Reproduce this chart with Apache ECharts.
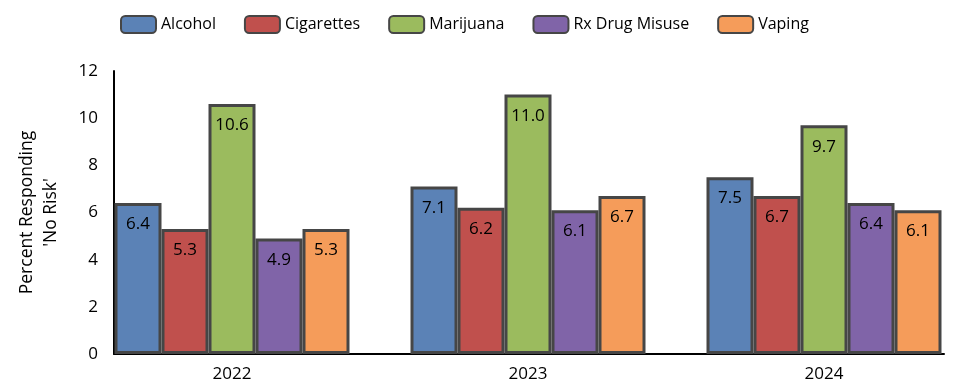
<!DOCTYPE html>
<html>
<head>
<meta charset="utf-8">
<script src="https://cdn.jsdelivr.net/npm/echarts@6/dist/echarts.min.js"></script>
<style>
  html, body { margin: 0; padding: 0; background: #fff; }
  #chart { width: 955px; height: 388px; }
</style>
</head>
<body>
<div id="chart"></div>
<script>
// survey years along the x axis
const years = ['2022', '2023', '2024'];

// percent responding 'No Risk', one array per substance
const alcohol = [6.4, 7.1, 7.5];
const cigarettes = [5.3, 6.2, 6.7];
const marijuana = [10.6, 11.0, 9.7];
const rxDrugMisuse = [4.9, 6.1, 6.4];
const vaping = [5.3, 6.7, 6.1];

const seriesNames = ['Alcohol', 'Cigarettes', 'Marijuana', 'Rx Drug Misuse', 'Vaping'];
const seriesData = [alcohol, cigarettes, marijuana, rxDrugMisuse, vaping];
const seriesColors = ['#5B82B6', '#C0504D', '#9BBB5E', '#8064A8', '#F59C5A'];

const FONT = 'Open Sans';

const chart = echarts.init(document.getElementById('chart'));

const option = {
    animation: false,
    textStyle: { fontFamily: FONT },
    legend: {
        left: 115,
        top: 10,
        itemWidth: 35,
        itemHeight: 17,
        itemGap: 28,
        textStyle: { fontSize: 16, color: '#000', fontFamily: FONT },
        data: seriesNames
    },
    grid: [
        // grid holding the bars (wider so groups line up like the original)
        { left: 84, width: 888, top: 71, bottom: 34, outerBoundsMode: 'none' },
        // grid that only draws the visible axis lines
        { left: 114, right: 11, top: 71, bottom: 34, outerBoundsMode: 'none' }
    ],
    xAxis: [
        {
            gridIndex: 0,
            type: 'category',
            data: years,
            axisLine: { show: false },
            axisTick: { show: false },
            axisLabel: { fontSize: 17, color: '#000', margin: 12, fontFamily: FONT }
        },
        {
            gridIndex: 1,
            type: 'category',
            data: years,
            axisLine: { lineStyle: { color: '#000', width: 2 } },
            axisTick: { show: false },
            axisLabel: { show: false }
        }
    ],
    yAxis: [
        {
            gridIndex: 0,
            type: 'value',
            min: 0,
            max: 12,
            interval: 2,
            show: false
        },
        {
            gridIndex: 1,
            type: 'value',
            min: 0,
            max: 12,
            interval: 2,
            name: "Percent Responding\n'No Risk'",
            nameLocation: 'middle',
            nameGap: 51,
            nameTextStyle: { fontSize: 17.5, color: '#000', lineHeight: 24, fontFamily: FONT },
            axisLine: { show: true, lineStyle: { color: '#000', width: 2 } },
            axisTick: { show: false },
            splitLine: { show: false },
            axisLabel: { fontSize: 17, color: '#000', margin: 16, fontFamily: FONT }
        }
    ],
    series: seriesNames.map((name, i) => ({
        name: name,
        type: 'bar',
        xAxisIndex: 0,
        yAxisIndex: 0,
        data: seriesData[i],
        barWidth: 47,
        barGap: '0%',
        itemStyle: {
            color: seriesColors[i],
            borderColor: '#464646',
            borderWidth: 3
        },
        label: {
            show: true,
            position: 'insideTop',
            distance: 13,
            fontSize: 17,
            color: '#000',
            fontFamily: FONT,
            formatter: p => p.value.toFixed(1)
        }
    }))
};

chart.setOption(option);
</script>
</body>
</html>
